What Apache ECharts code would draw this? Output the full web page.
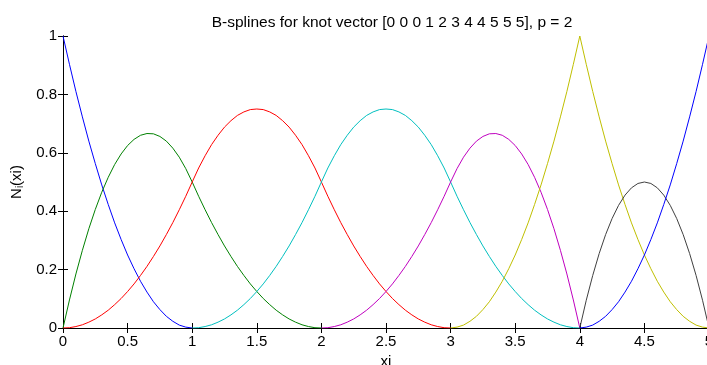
<!DOCTYPE html>
<html>
<head>
<meta charset="utf-8">
<script src="https://cdn.jsdelivr.net/npm/echarts@6/dist/echarts.min.js"></script>
<style>
html,body{margin:0;padding:0;background:#fff;}
#c{width:707px;height:365px;}
</style>
</head>
<body>
<div id="c"></div>
<script>
const titleText = 'B-splines for knot vector [0 0 0 1 2 3 4 4 5 5 5], p = 2';
const xTicks = [0, 0.5, 1, 1.5, 2, 2.5, 3, 3.5, 4, 4.5, 5];
const yTicks = [0, 0.2, 0.4, 0.6, 0.8, 1];
const xi = [0,0.05,0.1,0.15,0.2,0.25,0.3,0.35,0.4,0.45,0.5,0.55,0.6,0.65,0.7,0.75,0.8,0.85,0.9,0.95,
  1,1.05,1.1,1.15,1.2,1.25,1.3,1.35,1.4,1.45,1.5,1.55,1.6,1.65,1.7,1.75,1.8,1.85,1.9,1.95,
  2,2.05,2.1,2.15,2.2,2.25,2.3,2.35,2.4,2.45,2.5,2.55,2.6,2.65,2.7,2.75,2.8,2.85,2.9,2.95,
  3,3.05,3.1,3.15,3.2,3.25,3.3,3.35,3.4,3.45,3.5,3.55,3.6,3.65,3.7,3.75,3.8,3.85,3.9,3.95,
  4,4.05,4.1,4.15,4.2,4.25,4.3,4.35,4.4,4.45,4.5,4.55,4.6,4.65,4.7,4.75,4.8,4.85,4.9,4.95,5];
const _ = null;
const N0 = [1,.903,.81,.723,.64,.563,.49,.423,.36,.303,.25,.203,.16,.123,.09,.063,.04,.023,.01,.003,
  0,_,_,_,_,_,_,_,_,_,_,_,_,_,_,_,_,_,_,_,
  _,_,_,_,_,_,_,_,_,_,_,_,_,_,_,_,_,_,_,_,
  _,_,_,_,_,_,_,_,_,_,_,_,_,_,_,_,_,_,_,_,
  _,_,_,_,_,_,_,_,_,_,_,_,_,_,_,_,_,_,_,_,_];
const N1 = [0,.096,.185,.266,.34,.406,.465,.516,.56,.596,.625,.646,.66,.666,.665,.656,.64,.616,.585,.546,
  .5,.451,.405,.361,.32,.281,.245,.211,.18,.151,.125,.101,.08,.061,.045,.031,.02,.011,.005,.001,
  0,_,_,_,_,_,_,_,_,_,_,_,_,_,_,_,_,_,_,_,
  _,_,_,_,_,_,_,_,_,_,_,_,_,_,_,_,_,_,_,_,
  _,_,_,_,_,_,_,_,_,_,_,_,_,_,_,_,_,_,_,_,_];
const N2 = [0,.001,.005,.011,.02,.031,.045,.061,.08,.101,.125,.151,.18,.211,.245,.281,.32,.361,.405,.451,
  .5,.548,.59,.628,.66,.688,.71,.728,.74,.748,.75,.748,.74,.728,.71,.688,.66,.628,.59,.548,
  .5,.451,.405,.361,.32,.281,.245,.211,.18,.151,.125,.101,.08,.061,.045,.031,.02,.011,.005,.001,
  0,_,_,_,_,_,_,_,_,_,_,_,_,_,_,_,_,_,_,_,
  _,_,_,_,_,_,_,_,_,_,_,_,_,_,_,_,_,_,_,_,_];
const N3 = [_,_,_,_,_,_,_,_,_,_,_,_,_,_,_,_,_,_,_,_,
  0,.001,.005,.011,.02,.031,.045,.061,.08,.101,.125,.151,.18,.211,.245,.281,.32,.361,.405,.451,
  .5,.548,.59,.628,.66,.688,.71,.728,.74,.748,.75,.748,.74,.728,.71,.688,.66,.628,.59,.548,
  .5,.451,.405,.361,.32,.281,.245,.211,.18,.151,.125,.101,.08,.061,.045,.031,.02,.011,.005,.001,
  0,_,_,_,_,_,_,_,_,_,_,_,_,_,_,_,_,_,_,_,_];
const N4 = [_,_,_,_,_,_,_,_,_,_,_,_,_,_,_,_,_,_,_,_,
  _,_,_,_,_,_,_,_,_,_,_,_,_,_,_,_,_,_,_,_,
  0,.001,.005,.011,.02,.031,.045,.061,.08,.101,.125,.151,.18,.211,.245,.281,.32,.361,.405,.451,
  .5,.546,.585,.616,.64,.656,.665,.666,.66,.646,.625,.596,.56,.516,.465,.406,.34,.266,.185,.096,
  0,_,_,_,_,_,_,_,_,_,_,_,_,_,_,_,_,_,_,_,_];
const N5 = [_,_,_,_,_,_,_,_,_,_,_,_,_,_,_,_,_,_,_,_,
  _,_,_,_,_,_,_,_,_,_,_,_,_,_,_,_,_,_,_,_,
  _,_,_,_,_,_,_,_,_,_,_,_,_,_,_,_,_,_,_,_,
  0,.003,.01,.023,.04,.063,.09,.123,.16,.203,.25,.303,.36,.423,.49,.563,.64,.723,.81,.903,
  1,.903,.81,.723,.64,.563,.49,.423,.36,.303,.25,.203,.16,.123,.09,.063,.04,.023,.01,.003,0];
const N6 = [_,_,_,_,_,_,_,_,_,_,_,_,_,_,_,_,_,_,_,_,
  _,_,_,_,_,_,_,_,_,_,_,_,_,_,_,_,_,_,_,_,
  _,_,_,_,_,_,_,_,_,_,_,_,_,_,_,_,_,_,_,_,
  _,_,_,_,_,_,_,_,_,_,_,_,_,_,_,_,_,_,_,_,
  0,.095,.18,.255,.32,.375,.42,.455,.48,.495,.5,.495,.48,.455,.42,.375,.32,.255,.18,.095,0];
const N7 = [_,_,_,_,_,_,_,_,_,_,_,_,_,_,_,_,_,_,_,_,
  _,_,_,_,_,_,_,_,_,_,_,_,_,_,_,_,_,_,_,_,
  _,_,_,_,_,_,_,_,_,_,_,_,_,_,_,_,_,_,_,_,
  _,_,_,_,_,_,_,_,_,_,_,_,_,_,_,_,_,_,_,_,
  0,.003,.01,.023,.04,.063,.09,.123,.16,.203,.25,.303,.36,.423,.49,.563,.64,.723,.81,.903,1];
const seriesVals = [N0, N1, N2, N3, N4, N5, N6, N7];
const colors = ['#0000ff','#008000','#ff0000','#00bfbf','#bf00bf','#bfbf00','#404040','#0000ff'];

const FONT = 'Liberation Sans, Arial, sans-serif';
const chart = echarts.init(document.getElementById('c'), null, {renderer: 'canvas'});
const series = seriesVals.map((vals, k) => ({
  type: 'line',
  data: xi.map((x, i) => [x, vals[i]]),
  showSymbol: false,
  symbol: 'none',
  connectNulls: false,
  animation: false,
  lineStyle: {color: colors[k], width: 1},
  itemStyle: {color: colors[k]},
  z: 3 + k
}));

const axisCommon = {
  axisLine: {show: true, lineStyle: {color: '#000', width: 1}},
  axisTick: {show: true, inside: true, length: 5, lineStyle: {color: '#000', width: 1}},
  splitLine: {show: false}
};

chart.setOption({
  animation: false,
  backgroundColor: '#fff',
  title: {
    text: titleText,
    left: 387,
    top: 10,
    textAlign: 'center',
    textStyle: {fontFamily: FONT, fontSize: 15.5, fontWeight: 'normal', color: '#000'}
  },
  grid: {left: 63, top: 36, width: 646, height: 292, containLabel: false, outerBoundsMode: 'none'},
  xAxis: [
    Object.assign({
      type: 'value', min: 0, max: 5, interval: 0.5, position: 'bottom',
      name: 'xi', nameLocation: 'middle', nameGap: 24,
      nameTextStyle: {fontFamily: FONT, fontSize: 15, color: '#000'},
      axisLabel: {show: true, margin: 6, fontFamily: FONT, fontSize: 15, color: '#000',
        formatter: v => (xTicks.indexOf(v) >= 0 ? String(v) : '')}
    }, axisCommon),
    Object.assign({
      type: 'value', min: 0, max: 5, interval: 0.5, position: 'top',
      axisLabel: {show: false}
    }, axisCommon)
  ],
  yAxis: [
    Object.assign({
      type: 'value', min: 0, max: 1, interval: 0.2, position: 'left',
      name: 'N{s|i}(xi)', nameLocation: 'middle', nameGap: 37, nameRotate: 90,
      nameTextStyle: {fontFamily: FONT, fontSize: 15, color: '#000',
        rich: {s: {fontFamily: FONT, fontSize: 10, color: '#000', verticalAlign: 'bottom', padding: [6,0,0,0]}}},
      axisLabel: {show: true, margin: 6, fontFamily: FONT, fontSize: 15, color: '#000',
        formatter: v => (yTicks.some(t => Math.abs(t - v) < 1e-9) ? String(Math.round(v*10)/10) : '')}
    }, axisCommon),
    Object.assign({
      type: 'value', min: 0, max: 1, interval: 0.2, position: 'right',
      axisLabel: {show: false}
    }, axisCommon)
  ],
  series: series
});
</script>
</body>
</html>
